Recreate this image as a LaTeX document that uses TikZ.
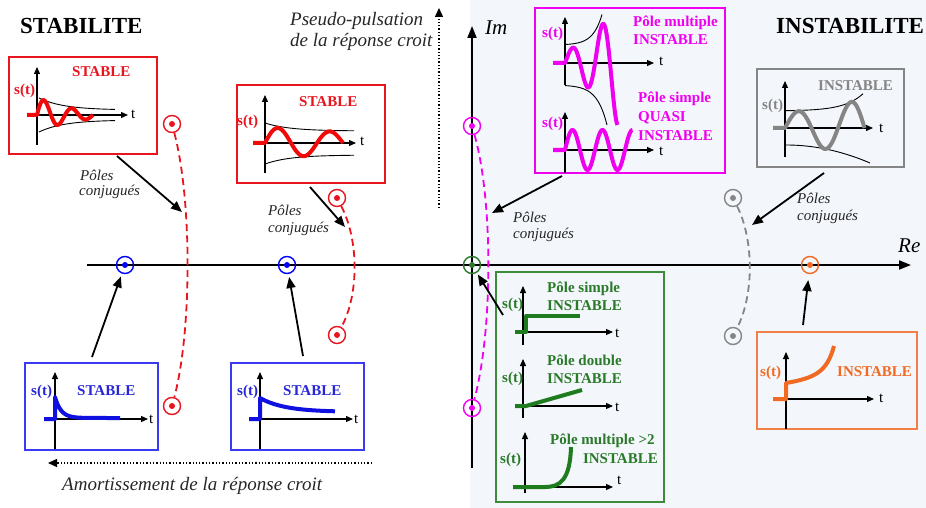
\documentclass[tikz,border=0pt]{standalone}
\usepackage{fontspec}
\setmainfont{Liberation Serif}
\usetikzlibrary{arrows.meta}
\definecolor{bgc}{HTML}{F3F6FA}
\definecolor{cred}{HTML}{E8141E}
\definecolor{sred}{HTML}{F00A0A}
\definecolor{cblue}{HTML}{2626D8}
\definecolor{bblue}{HTML}{3A3AF0}
\definecolor{sblue}{HTML}{1010E0}
\definecolor{cmag}{HTML}{F000F0}
\definecolor{cgreen}{HTML}{2A7A2A}
\definecolor{bgreen}{HTML}{3C8C3C}
\definecolor{sgreen}{HTML}{1E7B1E}
\definecolor{cgray}{HTML}{858585}
\definecolor{corange}{HTML}{F06A24}
\definecolor{borange}{HTML}{F08048}
\begin{document}
\begin{tikzpicture}[x=1pt,y=-1pt,
  box/.style={draw=#1, line width=1.3pt, rectangle, inner sep=0pt},
  lab/.style={font=\fontsize{15}{17}\selectfont\bfseries, text=#1, inner sep=0pt, anchor=base west},
  tl/.style={font=\fontsize{15}{17}\selectfont, inner sep=0pt, anchor=base west},
  itl/.style={font=\fontsize{15}{17}\selectfont\itshape, text=black!85, inner sep=0pt, anchor=base west},
  bigit/.style={font=\fontsize{19}{21}\selectfont\itshape, text=black!85, inner sep=0pt, anchor=base west},
  title/.style={font=\fontsize{23}{25}\selectfont\bfseries, inner sep=0pt, anchor=base west},
  ax/.style={line width=1.2pt, -{Triangle[length=7pt,width=6pt]}},
  mainax/.style={line width=1.8pt, -{Triangle[length=12pt,width=9pt]}},
  env/.style={line width=0.9pt},
  sig/.style={line width=4pt, draw=#1, line join=round},
  bigarrow/.style={line width=1.8pt, -{Triangle[length=11pt,width=9pt]}},
  dotarrow/.style={line width=1.3pt, dotted, -{Triangle[length=9pt,width=8pt]}},
  dcurve/.style={draw=#1, line width=1.8pt, dash pattern=on 7pt off 4.5pt},
  pole/.style={circle, draw=#1, line width=1.4pt, minimum size=17pt, inner sep=0pt,
    path picture={\fill[#1] (path picture bounding box.center) circle (3pt);}},
]
\useasboundingbox (0,0) rectangle (926,508);
\fill[bgc] (470,0) rectangle (926,508);

% titles
\node[title] (tstab) at (20,34) {STABILITE};
\node[title] (tinst) at (776,34) {INSTABILITE};

% main axes
\coordinate (reS) at (87,265);
\coordinate (reE) at (911,265);
\coordinate (imS) at (472,468);
\coordinate (imE) at (472,26);
\draw[mainax] (reS) -- (reE);
\draw[mainax] (imS) -- (imE);
\node[font=\fontsize{21}{23}\selectfont\itshape, inner sep=0pt, anchor=base west] (lim) at (485,35) {Im};
\node[font=\fontsize{21}{23}\selectfont\itshape, inner sep=0pt, anchor=base west] (lre) at (898,252) {Re};

% dotted arrows
\coordinate (pv1) at (439,208);
\coordinate (pv2) at (439,8);
\draw[dotarrow] (pv1) -- (pv2);
\node[bigit] (ps1) at (290,26) {Pseudo-pulsation};
\node[bigit] (ps2) at (290,47) {de la réponse croit};
\coordinate (ph1) at (372,463);
\coordinate (ph2) at (48,463);
\draw[dotarrow] (ph1) -- (ph2);
\node[bigit] (am) at (62,490) {Amortissement de la réponse croit};

% poles
\node[pole=blue] (pb1) at (125,265) {};
\node[pole=blue] (pb2) at (287,265) {};
\node[pole=cgreen] (po) at (472,265) {};
\node[pole=corange] (por) at (810,265) {};
\node[pole=cred] (pr1u) at (172,124) {};
\node[pole=cred] (pr1d) at (172,406) {};
\node[pole=cred] (pr2u) at (337,198) {};
\node[pole=cred] (pr2d) at (337,335) {};
\node[pole=cmag] (pmu) at (472,126) {};
\node[pole=cmag] (pmd) at (472,408) {};
\node[pole=cgray] (pgu) at (733,198) {};
\node[pole=cgray] (pgd) at (733,336) {};

% dashed loci
\draw[dcurve=cred] (pr1u) .. controls (192,200) and (192,330) .. (pr1d);
\draw[dcurve=cred] (pr2u) .. controls (359,240) and (359,295) .. (pr2d);
\draw[dcurve=cmag] (pmu) .. controls (493,200) and (493,330) .. (pmd);
\draw[dcurve=cgray] (pgu) .. controls (754,240) and (754,295) .. (pgd);

% ---------- red box 1
\node[box=cred, minimum width=148pt, minimum height=97pt] (r1) at (83,105.5) {};
\draw[ax] (37,145) -- (37,67);
\draw[ax] (37,115) -- (128,115);
\node[tl] (r1t) at (131,119) {t};
\draw[env] plot[domain=2:78,samples=40] ({37+\x},{115-(5+13*exp(-\x/25))});
\draw[env] plot[domain=2:78,samples=40] ({37+\x},{115+(5+13*exp(-\x/25))});
\draw[sig=sred] (27,115) -- plot[domain=0:56,samples=90] ({37+\x},{115-18*exp(-\x/35)*sin(\x*12.857)});
\node[lab=cred] (r1s) at (14,95) {s(t)};
\node[lab=cred] (r1l) at (72,77) {STABLE};

% ---------- red box 2
\node[box=cred, minimum width=148pt, minimum height=98pt] (r2) at (311,134) {};
\draw[ax] (265,173) -- (265,95);
\draw[ax] (265,143) -- (356,143);
\node[tl] (r2t) at (360,146) {t};
\draw[env] plot[domain=1:89,samples=40] ({265+\x},{143-(12+8*exp(-\x/25))});
\draw[env] plot[domain=1:89,samples=40] ({265+\x},{143+(12+9*exp(-\x/25))});
\draw[sig=sred] (253,143) -- plot[domain=0:78,samples=90] ({265+\x},{143-16*exp(-\x/200)*sin(\x*6.923)});
\node[lab=cred] (r2s) at (237,125) {s(t)};
\node[lab=cred] (r2l) at (299,107) {STABLE};

% ---------- blue box 1
\node[box=bblue, minimum width=133pt, minimum height=87pt] (b1) at (91.5,406.5) {};
\draw[ax] (55,449) -- (55,372);
\draw[ax] (55,419) -- (148,419);
\node[tl] (b1t) at (149,423) {t};
\draw[sig=sblue] (44,419) -- (55,419) -- (55,397) -- plot[domain=0:65,samples=60] ({55+\x},{418-21*exp(-\x/6)});
\node[lab=cblue] (b1s) at (31,395) {s(t)};
\node[lab=cblue] (b1l) at (77,395) {STABLE};

% ---------- blue box 2
\node[box=bblue, minimum width=133pt, minimum height=87pt] (b2) at (297.5,406.5) {};
\draw[ax] (260,449) -- (260,372);
\draw[ax] (260,419) -- (353,419);
\node[tl] (b2t) at (354,423) {t};
\draw[sig=sblue] (249,419) -- (260,419) -- (260,398) -- plot[domain=0:75,samples=60] ({260+\x},{412-14*exp(-\x/25)});
\node[lab=cblue] (b2s) at (237,395) {s(t)};
\node[lab=cblue] (b2l) at (283,395) {STABLE};

% ---------- magenta box
\node[box=cmag, minimum width=190pt, minimum height=165pt] (mb) at (630,90.5) {};
\draw[ax] (565,85) -- (565,17);
\draw[ax] (565,63) -- (654,63);
\node[tl] (m1t) at (659,66) {t};
\draw[env] plot[domain=0:37,samples=40] ({565+\x},{63-(18+0.5*exp(\x/9))});
\draw[env] plot[domain=0:42,samples=40] ({565+\x},{63+22+0.6*exp(\x/10)});
\draw[sig=cmag] (553,63) -- plot[domain=0:52.5,samples=100] ({565+\x},{63-12*exp(\x/32)*sin(\x*12)});
\draw[ax] (565,173) -- (565,112);
\draw[ax] (565,150) -- (654,150);
\node[tl] (m2t) at (659,155) {t};
\draw[sig=cmag] (553,150) -- plot[domain=0:67.5,samples=100] ({565+\x},{150-20*sin(\x*12)});
\node[lab=cmag] (m1s) at (542,38) {s(t)};
\node[lab=cmag] (m2s) at (542,128) {s(t)};
\node[lab=cmag] (m1a) at (633,27) {Pôle multiple};
\node[lab=cmag] (m1b) at (633,45) {INSTABLE};
\node[lab=cmag] (m2a) at (638,103) {Pôle simple};
\node[lab=cmag] (m2b) at (638,122) {QUASI};
\node[lab=cmag] (m2c) at (638,140) {INSTABLE};

% ---------- grey box
\node[box=cgray, minimum width=147pt, minimum height=98pt] (gb) at (830.5,118) {};
\draw[ax] (785,157) -- (785,81);
\draw[ax] (785,128) -- (873,128);
\node[tl] (gt) at (879,132) {t};
\draw[env] plot[domain=0:77,samples=40] ({786+\x},{128-(17+0.3*exp(\x/19))});
\draw[env] plot[domain=0:84,samples=40] ({786+\x},{145+18*(\x/84)*(\x/84)});
\draw[sig=cgray] (773,128) -- plot[domain=0:79.5,samples=100] ({785+\x},{128-15*exp(\x/120)*sin(\x*6.792)});
\node[lab=cgray] (gs) at (762,110) {s(t)};
\node[lab=cgray] (gl) at (818,91) {INSTABLE};

% ---------- green box
\node[box=bgreen, minimum width=168pt, minimum height=230pt] (grb) at (580,387) {};
\draw[ax] (523,345) -- (523,286);
\draw[ax] (523,332) -- (613,332);
\node[tl] (g1t) at (615,337) {t};
\draw[sig=sgreen] (515,332) -- (526,332) -- (526,316) -- (580,316);
\node[lab=cgreen] (g1s) at (502,308) {s(t)};
\node[lab=cgreen] (g1a) at (547,292) {Pôle simple};
\node[lab=cgreen] (g1b) at (547,310) {INSTABLE};
\draw[ax] (523,418) -- (523,359);
\draw[ax] (523,406) -- (613,406);
\node[tl] (g2t) at (615,411) {t};
\draw[sig=sgreen] (515,406) -- (526,406) -- (582,390);
\node[lab=cgreen] (g2s) at (502,382) {s(t)};
\node[lab=cgreen] (g2a) at (547,365) {Pôle double};
\node[lab=cgreen] (g2b) at (547,383) {INSTABLE};
\draw[ax] (525,493) -- (525,432);
\draw[ax] (525,487) -- (613,487);
\node[tl] (g3t) at (617,484) {t};
\draw[sig=sgreen] (513,487) -- (545,487) .. controls (560,487) and (570,480) .. (571,447);
\node[lab=cgreen] (g3s) at (500,463) {s(t)};
\node[lab=cgreen] (g3a) at (550,444) {Pôle multiple >2};
\node[lab=cgreen, anchor=base east] (g3b) at (658,463) {INSTABLE};

% ---------- orange box
\node[box=borange, minimum width=160pt, minimum height=97pt] (ob) at (837,380.5) {};
\draw[ax] (786,429) -- (786,352);
\draw[ax] (786,399) -- (874,399);
\node[tl] (ot) at (879,402) {t};
\draw[sig=corange] (773,399) -- (786,399) -- (786,383) .. controls (815,378) and (827,372) .. (834,346);
\node[lab=corange] (os) at (760,376) {s(t)};
\node[lab=corange] (ol) at (837,376) {INSTABLE};

% ---------- pointing arrows
\coordinate (a1s) at (117,156); \coordinate (a1e) at (182,212);
\draw[bigarrow] (a1s) -- (a1e);
\node[itl] (c1a) at (80,180) {Pôles};
\node[itl] (c1b) at (79,195) {conjugués};
\coordinate (a2s) at (310,187); \coordinate (a2e) at (345,227);
\draw[bigarrow] (a2s) -- (a2e);
\node[itl] (c2a) at (268,215) {Pôles};
\node[itl] (c2b) at (268,232) {conjugués};
\coordinate (a3s) at (92,357);
\draw[bigarrow, shorten >=3pt] (a3s) -- (pb1);
\coordinate (a4s) at (303,356);
\draw[bigarrow, shorten >=3pt] (a4s) -- (pb2);
\coordinate (a5s) at (562,176); \coordinate (a5e) at (492,213);
\draw[bigarrow] (a5s) -- (a5e);
\node[itl] (c3a) at (513,222) {Pôles};
\node[itl] (c3b) at (513,238) {conjugués};
\coordinate (a6s) at (824,173); \coordinate (a6e) at (752,225);
\draw[bigarrow] (a6s) -- (a6e);
\node[itl] (c4a) at (797,203) {Pôles};
\node[itl] (c4b) at (797,220) {conjugués};
\coordinate (a7s) at (503,315);
\draw[bigarrow, shorten >=2pt] (a7s) -- (po);
\coordinate (a8s) at (803,325);
\draw[bigarrow, shorten >=6pt] (a8s) -- (por);
\end{tikzpicture}
\end{document}
